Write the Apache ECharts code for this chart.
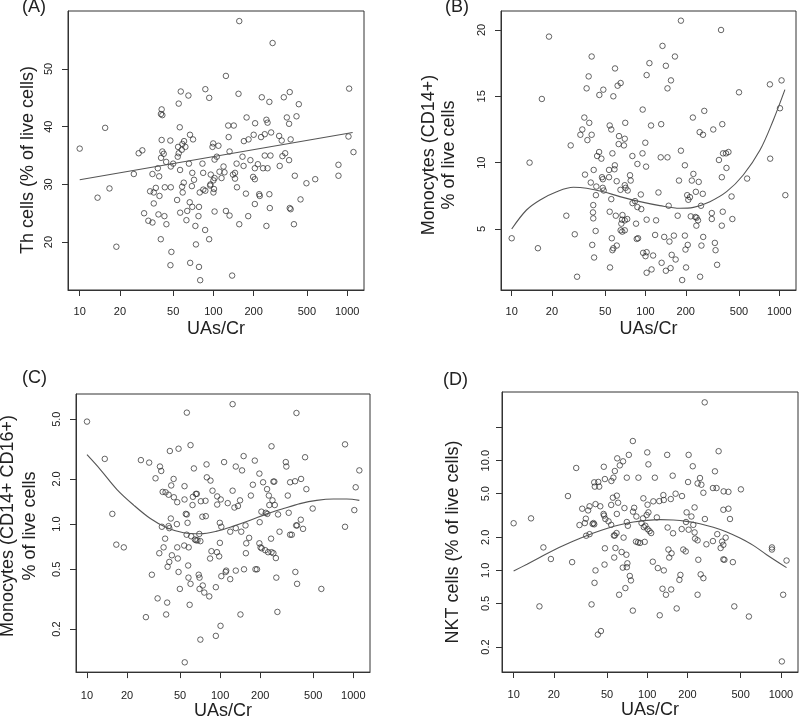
<!DOCTYPE html>
<html>
<head>
<meta charset="utf-8">
<script src="https://cdn.jsdelivr.net/npm/echarts@6/dist/echarts.min.js"></script>
<style>html,body{margin:0;padding:0;background:#fff}#c{width:800px;height:721px}</style>
</head>
<body>
<div id="c"></div>
<script>
// ---- data: [UAs/Cr, value] ----
const thCells = [[156,58.3],[277,54.5],[124,48.8],[1035,46.6],[87,46.5],[57,46.1],[65,45.4],[154,45.7],[93,45.0],[230,45.1],[372,46.0],[336,45.1],[262,44.3],[55,44.0],[435,43.9],[41,43.0],[40.5,42.2],[41.5,42.0],[177,41.6],[354,41.6],[418,41.8],[15.5,39.8],[56,39.9],[205,40.6],[129,40.2],[142,40.2],[249,41.2],[254,40.7],[368,40.5],[10,36.2],[27.6,35.4],[29.4,35.9],[41,37.7],[47.6,37.6],[66.8,38.6],[70.4,37.8],[60.3,37.5],[58.6,37.0],[54.4,36.5],[61.7,36.5],[99.6,37.1],[98.4,36.5],[109,36.7],[130,38.2],[169,37.5],[183,37.8],[200,38.6],[227,38.2],[242,38.7],[270,39.0],[310,38.4],[324,37.6],[378,37.8],[1023,38.3],[1115,35.6],[41.5,35.7],[42.5,35.3],[40.6,34.6],[44.3,33.9],[38.4,32.8],[35,31.8],[25.4,31.8],[39.3,31.4],[48,33.1],[50,33.6],[54.1,34.8],[55,35.4],[58,36.0],[65.6,33.6],[56.3,32.5],[69.5,32.0],[71.6,30.8],[82.8,33.6],[83.8,32.0],[95.5,31.7],[100,30.7],[95,30.0],[102,31.1],[106,34.8],[102,34.3],[111,32.2],[115,31.1],[119,33.1],[121,32.1],[132,35.7],[140,31.7],[145,32.0],[145,31.0],[149,33.6],[165,34.8],[168,33.2],[150,29.5],[189,34.2],[204,32.8],[215,33.5],[198,31.3],[204,30.9],[242,35.0],[254,32.8],[235,32.8],[267,35.0],[313,33.2],[328,34.9],[344,35.4],[368,34.2],[406,31.5],[496,30.2],[577,30.9],[861,33.4],[861,31.5],[30.3,25.0],[32.6,23.7],[35,23.4],[33.6,28.8],[35.8,28.6],[37.1,29.4],[35.8,26.7],[39.5,28.0],[38.8,24.8],[43.3,29.5],[43,24.5],[44.5,23.1],[48,29.5],[40.4,20.5],[48.5,18.3],[47.7,16.0],[18.8,19.2],[13.6,27.7],[16.7,29.3],[53.5,27.3],[56.4,25.1],[58.3,29.6],[58.9,28.6],[60,30.3],[62.8,23.8],[63.7,25.4],[66.5,26.9],[69.5,26.1],[69,29.7],[73.3,22.8],[74,19.6],[77.3,24.5],[78,26.1],[79,28.6],[84,29.1],[87,28.9],[86.7,22.1],[92.9,20.5],[94.5,29.8],[100,28.6],[101,29.2],[102,25.3],[78,15.7],[79.6,13.4],[67,16.4],[124,25.4],[132,24.6],[138,14.2],[156,23.1],[175,28.4],[182,24.5],[204,26.6],[220,28.3],[222,28.0],[262,28.3],[264,25.9],[249,22.8],[372,25.9],[378,25.7],[400,23.1],[448,27.4]];
const thFit = [[10,30.8],[1100,39.0]];

const monoCD14 = [[184,20.7],[367,20.0],[19,19.5],[134,18.8],[39.6,18.0],[166,18.0],[107,17.5],[142,17.3],[59.2,17.1],[102,16.6],[37.6,16.5],[155,16.2],[1040,16.2],[65.2,16.0],[61.9,15.8],[36.3,15.6],[48.4,15.5],[146,15.6],[851,15.9],[16.8,14.8],[45.2,15.1],[57.5,15.0],[500,15.3],[95.3,14.0],[275,13.9],[1012,14.1],[34.9,13.4],[226,13.4],[70.6,13.0],[38,13.0],[131,12.9],[375,12.9],[54,12.8],[110,12.8],[33.7,12.5],[55.5,12.5],[321,12.5],[254,12.3],[269,12.1],[32.6,12.1],[39.6,12.1],[63.4,12.0],[70,11.8],[36.8,11.7],[27.6,11.3],[63,11.4],[69,11.3],[99.7,11.5],[184,10.9],[45,10.8],[43.5,10.5],[56.6,10.7],[95,10.7],[79.8,10.5],[130,10.4],[146,10.4],[380,10.7],[417,10.8],[400,10.7],[13.6,10.0],[46.8,10.3],[855,10.3],[354,10.2],[87,9.9],[101,9.7],[59,9.8],[197,9.8],[41,9.45],[35.3,9.1],[53.4,9.45],[58.6,9.5],[76.6,9.05],[228,9.15],[403,9.6],[372,8.9],[47.3,8.9],[48,8.75],[53.4,8.9],[39,8.5],[60.9,8.6],[77.5,8.65],[178,8.65],[222,8.65],[250,8.55],[575,8.8],[42.9,8.2],[47.9,8.1],[48.7,7.9],[70,8.3],[71,8.1],[65,7.95],[73.6,7.9],[238,7.8],[268,7.65],[125,7.75],[205,7.55],[42.6,7.55],[92.3,7.6],[440,7.45],[1110,7.55],[55.5,7.25],[209,7.2],[215,7.4],[40.7,6.8],[80,6.95],[83.5,7.1],[87,6.65],[93,6.5],[149,6.75],[260,6.75],[25.6,6.0],[40.5,6.25],[54,6.3],[60,6.0],[67.3,6.05],[174,6.0],[218,5.95],[236,5.9],[241,5.85],[313,6.2],[378,6.3],[40.7,5.8],[66.8,5.7],[70,5.65],[73,5.75],[102,5.7],[120,5.65],[247,5.65],[313,5.75],[446,5.75],[66,5.4],[85,5.4],[240,5.25],[372,5.25],[29.6,4.6],[42.4,4.85],[65.2,4.9],[67,4.8],[70,4.9],[118,4.55],[138,4.4],[163,4.5],[197,4.5],[270,4.4],[10,4.3],[56,4.3],[86,4.25],[88,4.3],[151,4.05],[330,3.95],[15.7,3.55],[40,3.8],[61,3.75],[57.5,3.55],[56.6,3.4],[207,3.8],[199,3.45],[262,3.75],[334,3.4],[96,3.2],[102,3.25],[157,3.05],[100,2.95],[114,3.0],[41.3,2.85],[168,2.7],[132,2.45],[343,2.3],[54.3,2.1],[154,2.05],[201,2.1],[142,1.85],[111,1.95],[102,1.7],[30.8,1.4],[256,1.4],[188,1.15]];
const monoCD14Fit = [[10,5.0],[12.9,6.43],[16.3,7.19],[21.7,7.81],[28.9,8.14],[36.3,8.07],[48.4,7.81],[64.4,7.44],[90.9,7.06],[128,6.76],[181,6.56],[228,6.63],[303,7.06],[404,7.81],[538,9.07],[718,10.95],[902,13.2],[1102,15.5]];

const monoCD16 = [[124,6.3],[56.2,5.53],[374,5.5],[10,4.82],[866,3.4],[59.9,3.36],[48.7,3.18],[41.9,3.07],[243,3.3],[150,2.84],[434,2.79],[13.6,2.72],[25.4,2.67],[29.3,2.57],[107,2.59],[182,2.65],[311,2.59],[79,2.5],[35.3,2.42],[36.1,2.26],[131,2.42],[314,2.42],[63.5,2.35],[146,2.28],[1109,2.28],[197,2.17],[32.7,2.02],[44.7,2.0],[79.4,2.05],[84.6,1.95],[405,2.0],[365,1.93],[335,1.9],[210,1.9],[251,1.92],[255,1.92],[42.9,1.81],[54,1.79],[1041,1.76],[176,1.83],[225,1.71],[444,1.71],[124,1.67],[87.6,1.67],[37,1.64],[38.9,1.63],[41,1.57],[65.7,1.59],[66.8,1.59],[62.4,1.52],[54,1.46],[44.9,1.51],[47.6,1.4],[71.6,1.42],[77.6,1.43],[95,1.53],[101,1.46],[62,1.34],[95,1.35],[114,1.38],[141,1.44],[136,1.32],[128,1.29],[170,1.55],[232,1.55],[247,1.44],[322,1.55],[257,1.34],[234,1.34],[495,1.27],[1017,1.24],[15.5,1.17],[55.2,1.17],[56.2,1.16],[78,1.13],[73.5,1.12],[204,1.21],[220,1.19],[226,1.17],[272,1.16],[327,1.19],[42.6,1.09],[56.9,1.02],[47.3,1.0],[99.4,1.02],[102,0.96],[155,0.98],[198,1.03],[403,1.07],[372,0.98],[378,0.98],[36.5,0.96],[41,0.97],[41.5,0.94],[866,0.96],[119,0.89],[131,0.94],[144,0.89],[419,0.93],[279,0.89],[335,0.85],[345,0.85],[56,0.85],[69.7,0.86],[60.6,0.83],[64.6,0.79],[66,0.78],[67.6,0.78],[71,0.77],[38.6,0.8],[241,0.8],[157,0.745],[165,0.81],[197,0.745],[99.5,0.75],[16.6,0.73],[18.9,0.70],[37.6,0.70],[47.6,0.70],[53.7,0.72],[58,0.70],[201,0.70],[205,0.69],[218,0.67],[229,0.65],[243,0.65],[251,0.64],[262,0.594],[86,0.66],[94.6,0.65],[98.3,0.61],[156,0.64],[34.9,0.64],[43.4,0.62],[84,0.59],[48.1,0.59],[41.5,0.56],[40.3,0.52],[57.5,0.53],[111,0.49],[131,0.49],[151,0.5],[184,0.5],[189,0.5],[367,0.48],[110,0.48],[48.7,0.48],[30.7,0.46],[69,0.46],[57.8,0.44],[70,0.44],[102,0.45],[119,0.43],[264,0.44],[59.9,0.40],[378,0.40],[74,0.39],[70,0.37],[49.8,0.37],[92.8,0.38],[76,0.35],[82.8,0.33],[575,0.37],[33.9,0.32],[40,0.30],[59,0.29],[27.7,0.24],[39.3,0.25],[142,0.25],[269,0.26],[100.6,0.21],[92.8,0.18],[71,0.17],[54.2,0.12]];
const monoCD16Fit = [[10,2.90],[12.6,2.31],[16.8,1.70],[22.4,1.34],[29.9,1.09],[39.8,0.945],[53.1,0.876],[70.8,0.863],[94.4,0.898],[126,0.97],[168,1.06],[224,1.17],[299,1.27],[398,1.37],[531,1.44],[708,1.47],[891,1.47],[1109,1.44]];

const nktCells = [[269,34],[78,15.1],[342,12.2],[100,11.9],[72.8,11.3],[141,11.3],[204,11.3],[59.6,10.5],[65.9,9.86],[62.3,9.06],[102,9.26],[29.4,8.58],[47.3,8.8],[219,8.9],[57.2,8.05],[321,8.0],[155,7.3],[48.2,6.8],[55.8,7.0],[70.3,7.0],[85.9,7.0],[114,7.0],[248,6.95],[53.9,6.53],[202,6.39],[238,6.2],[254,6.04],[40.1,6.35],[43,6.4],[43.7,5.8],[40.5,5.8],[310,5.63],[330,5.63],[502,5.48],[373,5.25],[405,5.2],[263,5.1],[163,5.0],[132,4.86],[182,4.76],[25.5,4.76],[59.2,4.8],[55.3,4.6],[93.5,4.54],[150,4.47],[133,4.38],[123,4.28],[111,4.26],[60.5,4.14],[100.5,3.97],[41,4.02],[44.5,3.84],[37,3.84],[53.7,3.95],[67.5,3.7],[32.6,3.65],[36.1,3.52],[79.8,3.72],[226,3.75],[405,3.65],[371,3.57],[78.2,3.43],[102,3.38],[197,3.38],[47.1,3.27],[59.2,3.27],[99,3.2],[34.7,2.96],[47.5,3.16],[48.6,2.94],[82.9,3.1],[92.9,2.98],[118,3.04],[214,3.1],[270,2.94],[416,2.94],[13.5,2.98],[51.3,2.8],[70.3,2.76],[34.1,2.7],[39.6,2.7],[40.1,2.63],[39,2.65],[31.1,2.59],[10,2.69],[53.7,2.6],[71.6,2.55],[90.6,2.7],[96.8,2.55],[195,2.76],[221,2.6],[142,2.46],[94.2,2.48],[100.5,2.38],[104,2.28],[181,2.38],[204,2.35],[226,2.22],[107,2.19],[156,2.18],[58.9,2.19],[57.2,2.08],[37,2.14],[34.9,2.07],[334,2.14],[56.3,2.08],[66.5,1.99],[386,1.99],[228,1.95],[238,1.88],[82.3,1.83],[85.3,1.8],[88.3,1.78],[95.7,1.82],[310,1.85],[363,1.83],[371,1.71],[277,1.73],[16.7,1.62],[48.2,1.59],[57.8,1.6],[354,1.6],[857,1.62],[857,1.55],[144,1.55],[186,1.55],[194,1.49],[64.3,1.47],[152,1.43],[69.8,1.39],[19,1.27],[56.6,1.31],[146,1.31],[241,1.25],[371,1.26],[378,1.25],[27.4,1.19],[47.9,1.13],[71,1.16],[110,1.2],[437,1.19],[1102,1.23],[70.3,1.07],[65.6,1.06],[41,1.0],[120,1.05],[133,1.0],[251,0.92],[177,0.91],[74,0.89],[263,0.85],[174,0.82],[75.5,0.81],[40.3,0.77],[68.6,0.69],[130,0.68],[151,0.67],[61.6,0.6],[138,0.6],[238,0.6],[1040,0.6],[15.6,0.47],[38.3,0.49],[448,0.47],[166,0.45],[78,0.43],[124,0.39],[576,0.38],[45,0.28],[42.7,0.26],[1017,0.148]];
const nktFit = [[10,0.986],[12.6,1.14],[15.8,1.32],[19.9,1.53],[25.0,1.74],[31.5,1.96],[39.6,2.19],[49.8,2.41],[62.7,2.61],[78.8,2.76],[99.2,2.86],[125,2.90],[157,2.88],[197,2.80],[248,2.66],[312,2.47],[393,2.24],[494,1.97],[621,1.69],[782,1.39],[1102,1.06]];

// ---- tick values and titles ----
const xTicks = [10, 20, 50, 100, 200, 500, 1000];
const yTicksA = [20, 30, 40, 50];
const yTicksB = [5, 10, 15, 20];
const yTicksC = [0.2, 0.5, 1.0, 2.0, 5.0];
const yTicksD = [0.2, 0.5, 1.0, 2.0, 5.0, 10.0, 20];
const yLabelsD = [0.2, 0.5, 1.0, 2.0, 5.0, 10.0];
const yTitles = ['Th cells (% of live cells)', 'Monocytes (CD14+)\n% of live cells',
                 'Monocytes (CD14+ CD16+)\n% of live cells', 'NKT cells (% of live cells)'];
const panelNames = ['(A)', '(B)', '(C)', '(D)'];

const FONT = '"Liberation Sans", Arial, sans-serif';
const INK = '#222';
const LINE = '#333';
const lg = v => Math.log10(v);
const tx = (pts, logY) => pts.map(p => [lg(p[0]), logY ? lg(p[1]) : p[1]]);

const grids = [
  {left: 68, top: 11, width: 296, height: 279},
  {left: 501, top: 11, width: 295, height: 279},
  {left: 76, top: 394, width: 294, height: 279},
  {left: 502, top: 392, width: 296, height: 280}
].map(g => Object.assign(g, {show: true, borderColor: LINE, borderWidth: 1}));

const xRanges = [[0.9125, 3.126], [0.92, 3.125], [0.9175, 3.125], [0.913, 3.128]];
const xGaps = [30, 30, 24, 24];
const xMargins = [16, 16, 18, 17];

const xAxes = xRanges.map((r, i) => ({
  type: 'value', gridIndex: i, position: 'bottom', min: r[0], max: r[1],
  axisLine: {show: true, onZero: false, lineStyle: {color: LINE, width: 1}},
  splitLine: {show: false},
  axisTick: {show: true, length: 6, customValues: xTicks.map(lg), lineStyle: {color: LINE, width: 1}},
  axisLabel: {customValues: xTicks.map(lg), formatter: v => String(Math.round(Math.pow(10, v))),
              fontSize: 11, fontFamily: FONT, color: INK, margin: xMargins[i]},
  name: 'UAs/Cr', nameLocation: 'middle', nameGap: xGaps[i],
  nameTextStyle: {fontSize: 18, fontFamily: FONT, color: INK}
}));

function yAxis(i, min, max, ticks, labels, fmt, margin) {
  return {
    type: 'value', gridIndex: i, position: 'left', min: min, max: max,
    axisLine: {show: true, onZero: false, lineStyle: {color: LINE, width: 1}},
    splitLine: {show: false},
    axisTick: {show: true, length: 6, customValues: ticks, lineStyle: {color: LINE, width: 1}},
    axisLabel: {customValues: labels, formatter: fmt, rotate: 90, fontSize: 11, fontFamily: FONT, color: INK, margin: margin}
  };
}
const fmtLin = v => String(Math.round(v));
const fmtLog = v => Math.pow(10, v).toFixed(1);

const yAxes = [
  yAxis(0, 11.7, 60.05, yTicksA, yTicksA, fmtLin, 14),
  yAxis(1, 0.4, 21.43, yTicksB, yTicksB, fmtLin, 14),
  yAxis(2, -0.986, 0.867, yTicksC.map(lg), yTicksC.map(lg), fmtLog, 14),
  yAxis(3, -0.926, 1.626, yTicksD.map(lg), yLabelsD.map(lg), fmtLog, 11)
];

const sets = [[thCells, thFit, false], [monoCD14, monoCD14Fit, false], [monoCD16, monoCD16Fit, true], [nktCells, nktFit, true]];
const series = [];
sets.forEach((s, i) => {
  series.push({
    type: 'scatter', xAxisIndex: i, yAxisIndex: i, data: tx(s[0], s[2]),
    symbol: 'circle', symbolSize: 5.5, silent: true,
    itemStyle: {color: 'rgba(0,0,0,0)', borderColor: '#2a2a2a', borderWidth: 0.9}
  });
  series.push({
    type: 'line', xAxisIndex: i, yAxisIndex: i, data: tx(s[1], s[2]),
    smooth: 0.35, showSymbol: false, symbol: 'none', silent: true,
    lineStyle: {color: '#555', width: 1.1}
  });
});

// layout: title centres and panel-label corners (pixels)
const yTitlePos = [[28.5, 160, 20], [439.5, 155, 20], [19, 526, 22], [453, 542, 20]];
const panelPos = [[22, -2], [445, -2], [22, 369], [443, 371]];

const graphics = [];
yTitles.forEach((t, i) => {
  const p = yTitlePos[i];
  graphics.push({
    type: 'text', x: p[0], y: p[1], rotation: Math.PI / 2, silent: true,
    style: {text: t, fontSize: 18, fontFamily: FONT, fill: INK, lineHeight: p[2], align: 'center', verticalAlign: 'middle'}
  });
});
panelNames.forEach((t, i) => {
  graphics.push({
    type: 'text', left: panelPos[i][0], top: panelPos[i][1], silent: true,
    style: {text: t, fontSize: 18, fontFamily: FONT, fill: INK}
  });
});

const chart = echarts.init(document.getElementById('c'), null, {renderer: 'canvas'});
chart.setOption({
  animation: false,
  backgroundColor: '#fff',
  grid: grids,
  xAxis: xAxes,
  yAxis: yAxes,
  series: series,
  graphic: graphics
});
</script>
</body>
</html>
